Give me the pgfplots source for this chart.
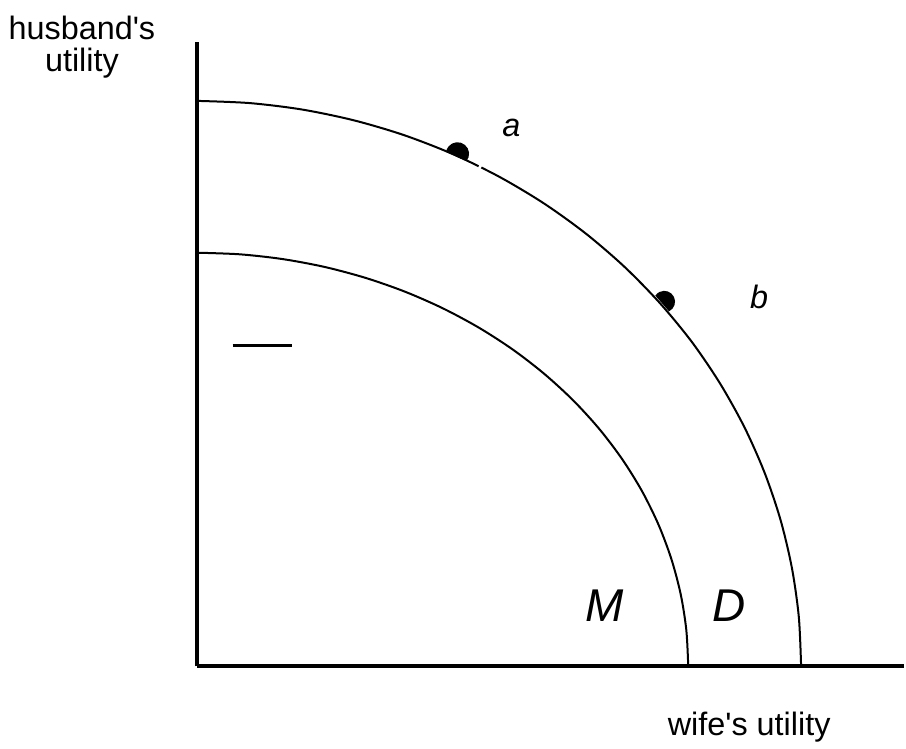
\documentclass[border=0pt]{standalone}
\usepackage{pgfplots}
\pgfplotsset{compat=1.18}
\usepackage{fontspec}
\setmainfont{Liberation Sans}
\newcommand\apos{\XeTeXglyph\XeTeXcharglyph"0027\relax}
\pgfdeclareplotmark{halfdisc}{%
  \pgfpathmoveto{\pgfqpointpolar{-15}{\pgfplotmarksize}}%
  \pgfpatharc{-15}{195}{\pgfplotmarksize}%
  \pgfpathclose\pgfusepathqfill}
\begin{document}
\begin{tikzpicture}
\begin{axis}[
  x=0.5pt, y=0.5pt,
  xmin=0, xmax=708, ymin=0, ymax=625,
  axis lines=left,
  axis line style={-, line width=2pt},
  xtick=\empty, ytick=\empty,
  clip=false,
]
\path (axis cs:-197,-82) rectangle (axis cs:709,667);
% outer frontier D
\addplot[smooth, line width=1pt, black] coordinates {
(605,0) (602.7,49.4) (595.8,98.3) (584.4,146.5) (568.5,193.6) (548.3,239.2)
(523.9,283.0) (495.6,324.7) (463.4,363.8) (427.8,400.2) (388.9,433.6)
(347.0,463.7) (302.5,490.2) (255.7,513.0) (206.9,531.9) (156.6,546.7)
(105.0,557.4) (52.8,563.8) (0,566)};
% inner frontier M
\addplot[smooth, line width=1pt, black] coordinates {
(492,0) (490.1,36.1) (484.5,71.9) (475.2,107.1) (462.3,141.6) (445.9,175.0)
(426.1,207.0) (403.0,237.5) (376.9,266.1) (347.9,292.7) (316.3,317.1)
(282.2,339.1) (246.0,358.5) (207.9,375.2) (168.3,389.0) (127.3,399.9)
(85.4,407.7) (42.9,412.4) (0,414)};
% small gap in the outer curve
\addplot[white, line width=1.6pt] coordinates {(282.3,500.6) (284.8,499.4)};
% short line
\addplot[line width=1.3pt, black] coordinates {(36,321) (95,321)};
% points a and b
\addplot[only marks, mark=halfdisc, mark size=5.8pt, mark options={rotate=-24}] coordinates {(261,513)};
\addplot[only marks, mark=halfdisc, mark size=5.4pt, mark options={rotate=-49}] coordinates {(468,365)};
% labels
\node[font=\fontsize{16.2}{19}\selectfont] at (axis cs:-115,639) {husband\apos s};
\node[font=\fontsize{16.2}{19}\selectfont] at (axis cs:-115,604) {utility};
\node[font=\fontsize{16.2}{19}\selectfont] at (axis cs:553,-61) {wife\apos s utility};
\node[font=\fontsize{16.2}{18}\selectfont\itshape] at (axis cs:315,539) {a};
\node[font=\fontsize{16.2}{18}\selectfont\itshape] at (axis cs:563,370) {b};
\node[font=\fontsize{23}{26}\selectfont\itshape] at (axis cs:408,61) {M};
\node[font=\fontsize{23}{26}\selectfont\itshape] at (axis cs:533,61) {D};
\end{axis}
\end{tikzpicture}
\end{document}
